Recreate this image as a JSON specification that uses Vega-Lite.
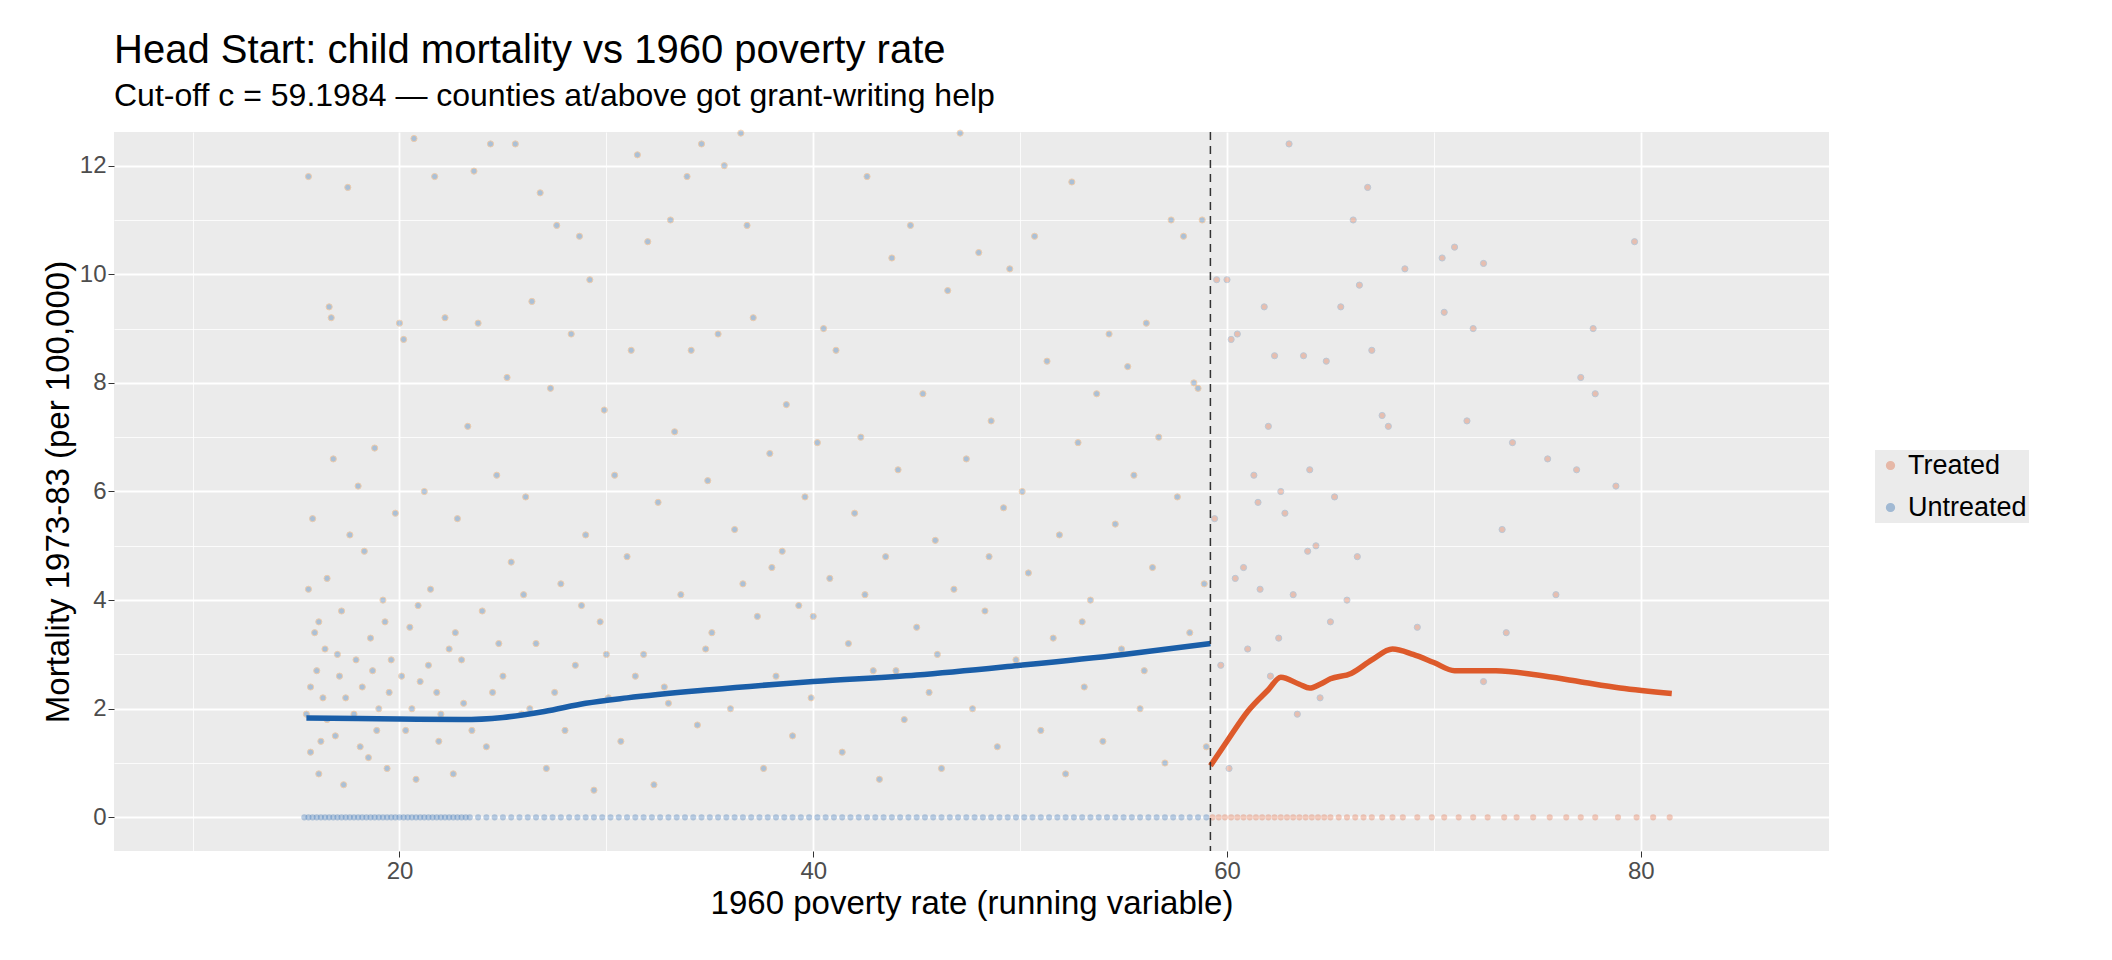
{
  "$schema": "https://vega.github.io/schema/vega-lite/v6.json",
  "autosize": {"type": "none"},
  "width": 1715,
  "height": 719,
  "padding": {"left": 114, "top": 132, "right": 283, "bottom": 109},
  "background": "white",
  "config": {
    "font": "Liberation Sans",
    "view": {"fill": "#ebebeb", "stroke": null},
    "axis": {
      "gridColor": "white", "domain": false, "tickColor": "#333333",
      "labelFontSize": 24, "labelColor": "#4d4d4d", "titleFontSize": 33, "titleFontWeight": "normal", "titleColor": "black"
    }
  },
  "title": {
    "text": "Head Start: child mortality vs 1960 poverty rate",
    "subtitle": "Cut-off c = 59.1984 — counties at/above got grant-writing help",
    "anchor": "start", "frame": "group", "fontSize": 40, "fontWeight": "normal",
    "subtitleFontSize": 32, "subtitleColor": "black", "offset": 16, "subtitlePadding": 10
  },
  "datasets": {
    "pts": [
      {"x":15.6,"y":11.8,"g":"Untreated"},{"x":15.8,"y":5.5,"g":"Untreated"},{"x":15.9,"y":3.4,"g":"Untreated"},{"x":16.0,"y":2.7,"g":"Untreated"},{"x":15.5,"y":1.9,"g":"Untreated"},{"x":15.7,"y":1.2,"g":"Untreated"},{"x":16.1,"y":0.8,"g":"Untreated"},{"x":15.6,"y":4.2,"g":"Untreated"},{"x":16.3,"y":2.2,"g":"Untreated"},{"x":16.4,"y":3.1,"g":"Untreated"},
      {"x":16.6,"y":9.4,"g":"Untreated"},{"x":16.7,"y":9.2,"g":"Untreated"},{"x":16.8,"y":6.6,"g":"Untreated"},{"x":16.5,"y":4.4,"g":"Untreated"},{"x":16.9,"y":1.5,"g":"Untreated"},{"x":17.1,"y":2.6,"g":"Untreated"},{"x":17.3,"y":0.6,"g":"Untreated"},{"x":17.2,"y":3.8,"g":"Untreated"},{"x":17.5,"y":11.6,"g":"Untreated"},{"x":17.6,"y":5.2,"g":"Untreated"},
      {"x":17.8,"y":1.9,"g":"Untreated"},{"x":18.0,"y":6.1,"g":"Untreated"},{"x":18.2,"y":2.4,"g":"Untreated"},{"x":18.3,"y":4.9,"g":"Untreated"},{"x":18.5,"y":1.1,"g":"Untreated"},{"x":18.6,"y":3.3,"g":"Untreated"},{"x":18.8,"y":6.8,"g":"Untreated"},{"x":19.0,"y":2.0,"g":"Untreated"},{"x":19.2,"y":4.0,"g":"Untreated"},{"x":19.4,"y":0.9,"g":"Untreated"},
      {"x":19.6,"y":2.9,"g":"Untreated"},{"x":19.8,"y":5.6,"g":"Untreated"},{"x":20.0,"y":9.1,"g":"Untreated"},{"x":20.2,"y":8.8,"g":"Untreated"},{"x":20.3,"y":1.6,"g":"Untreated"},{"x":20.5,"y":3.5,"g":"Untreated"},{"x":20.7,"y":12.5,"g":"Untreated"},{"x":20.8,"y":0.7,"g":"Untreated"},{"x":21.0,"y":2.5,"g":"Untreated"},{"x":21.2,"y":6.0,"g":"Untreated"},
      {"x":21.5,"y":4.2,"g":"Untreated"},{"x":21.7,"y":11.8,"g":"Untreated"},{"x":21.9,"y":1.4,"g":"Untreated"},{"x":22.2,"y":9.2,"g":"Untreated"},{"x":22.4,"y":3.1,"g":"Untreated"},{"x":22.6,"y":0.8,"g":"Untreated"},{"x":22.8,"y":5.5,"g":"Untreated"},{"x":23.1,"y":2.1,"g":"Untreated"},{"x":23.3,"y":7.2,"g":"Untreated"},{"x":23.6,"y":11.9,"g":"Untreated"},
      {"x":23.8,"y":9.1,"g":"Untreated"},{"x":24.0,"y":3.8,"g":"Untreated"},{"x":24.2,"y":1.3,"g":"Untreated"},{"x":24.4,"y":12.4,"g":"Untreated"},{"x":24.7,"y":6.3,"g":"Untreated"},{"x":25.0,"y":2.6,"g":"Untreated"},{"x":25.2,"y":8.1,"g":"Untreated"},{"x":25.4,"y":4.7,"g":"Untreated"},{"x":25.6,"y":12.4,"g":"Untreated"},{"x":25.9,"y":1.9,"g":"Untreated"},
      {"x":26.1,"y":5.9,"g":"Untreated"},{"x":26.4,"y":9.5,"g":"Untreated"},{"x":26.6,"y":3.2,"g":"Untreated"},{"x":26.8,"y":11.5,"g":"Untreated"},{"x":27.1,"y":0.9,"g":"Untreated"},{"x":27.3,"y":7.9,"g":"Untreated"},{"x":27.6,"y":10.9,"g":"Untreated"},{"x":27.8,"y":4.3,"g":"Untreated"},{"x":28.0,"y":1.6,"g":"Untreated"},{"x":28.3,"y":8.9,"g":"Untreated"},
      {"x":28.5,"y":2.8,"g":"Untreated"},{"x":28.7,"y":10.7,"g":"Untreated"},{"x":29.0,"y":5.2,"g":"Untreated"},{"x":29.2,"y":9.9,"g":"Untreated"},{"x":29.4,"y":0.5,"g":"Untreated"},{"x":29.7,"y":3.6,"g":"Untreated"},{"x":29.9,"y":7.5,"g":"Untreated"},{"x":30.1,"y":2.2,"g":"Untreated"},{"x":30.4,"y":6.3,"g":"Untreated"},{"x":30.7,"y":1.4,"g":"Untreated"},
      {"x":31.0,"y":4.8,"g":"Untreated"},{"x":31.2,"y":8.6,"g":"Untreated"},{"x":31.5,"y":12.2,"g":"Untreated"},{"x":31.8,"y":3.0,"g":"Untreated"},{"x":32.0,"y":10.6,"g":"Untreated"},{"x":32.3,"y":0.6,"g":"Untreated"},{"x":32.5,"y":5.8,"g":"Untreated"},{"x":32.8,"y":2.4,"g":"Untreated"},{"x":33.1,"y":11.0,"g":"Untreated"},{"x":33.3,"y":7.1,"g":"Untreated"},
      {"x":33.6,"y":4.1,"g":"Untreated"},{"x":33.9,"y":11.8,"g":"Untreated"},{"x":34.1,"y":8.6,"g":"Untreated"},{"x":34.4,"y":1.7,"g":"Untreated"},{"x":34.6,"y":12.4,"g":"Untreated"},{"x":34.9,"y":6.2,"g":"Untreated"},{"x":35.1,"y":3.4,"g":"Untreated"},{"x":35.4,"y":8.9,"g":"Untreated"},{"x":35.7,"y":12.0,"g":"Untreated"},{"x":36.0,"y":2.0,"g":"Untreated"},
      {"x":36.2,"y":5.3,"g":"Untreated"},{"x":36.5,"y":12.6,"g":"Untreated"},{"x":36.8,"y":10.9,"g":"Untreated"},{"x":37.1,"y":9.2,"g":"Untreated"},{"x":37.3,"y":3.7,"g":"Untreated"},{"x":37.6,"y":0.9,"g":"Untreated"},{"x":37.9,"y":6.7,"g":"Untreated"},{"x":38.2,"y":2.6,"g":"Untreated"},{"x":38.5,"y":4.9,"g":"Untreated"},{"x":38.7,"y":7.6,"g":"Untreated"},
      {"x":39.0,"y":1.5,"g":"Untreated"},{"x":39.3,"y":3.9,"g":"Untreated"},{"x":39.6,"y":5.9,"g":"Untreated"},{"x":39.9,"y":2.2,"g":"Untreated"},{"x":40.2,"y":6.9,"g":"Untreated"},{"x":40.5,"y":9.0,"g":"Untreated"},{"x":40.8,"y":4.4,"g":"Untreated"},{"x":41.1,"y":8.6,"g":"Untreated"},{"x":41.4,"y":1.2,"g":"Untreated"},{"x":41.7,"y":3.2,"g":"Untreated"},
      {"x":42.0,"y":5.6,"g":"Untreated"},{"x":42.3,"y":7.0,"g":"Untreated"},{"x":42.6,"y":11.8,"g":"Untreated"},{"x":42.9,"y":2.7,"g":"Untreated"},{"x":43.2,"y":0.7,"g":"Untreated"},{"x":43.5,"y":4.8,"g":"Untreated"},{"x":43.8,"y":10.3,"g":"Untreated"},{"x":44.1,"y":6.4,"g":"Untreated"},{"x":44.4,"y":1.8,"g":"Untreated"},{"x":44.7,"y":10.9,"g":"Untreated"},
      {"x":45.0,"y":3.5,"g":"Untreated"},{"x":45.3,"y":7.8,"g":"Untreated"},{"x":45.6,"y":2.3,"g":"Untreated"},{"x":45.9,"y":5.1,"g":"Untreated"},{"x":46.2,"y":0.9,"g":"Untreated"},{"x":46.5,"y":9.7,"g":"Untreated"},{"x":46.8,"y":4.2,"g":"Untreated"},{"x":47.1,"y":12.6,"g":"Untreated"},{"x":47.4,"y":6.6,"g":"Untreated"},{"x":47.7,"y":2.0,"g":"Untreated"},
      {"x":48.0,"y":10.4,"g":"Untreated"},{"x":48.3,"y":3.8,"g":"Untreated"},{"x":48.6,"y":7.3,"g":"Untreated"},{"x":48.9,"y":1.3,"g":"Untreated"},{"x":49.2,"y":5.7,"g":"Untreated"},{"x":49.5,"y":10.1,"g":"Untreated"},{"x":49.8,"y":2.9,"g":"Untreated"},{"x":50.1,"y":6.0,"g":"Untreated"},{"x":50.4,"y":4.5,"g":"Untreated"},{"x":50.7,"y":10.7,"g":"Untreated"},
      {"x":51.0,"y":1.6,"g":"Untreated"},{"x":51.3,"y":8.4,"g":"Untreated"},{"x":51.6,"y":3.3,"g":"Untreated"},{"x":51.9,"y":5.2,"g":"Untreated"},{"x":52.2,"y":0.8,"g":"Untreated"},{"x":52.5,"y":11.7,"g":"Untreated"},{"x":52.8,"y":6.9,"g":"Untreated"},{"x":53.1,"y":2.4,"g":"Untreated"},{"x":53.4,"y":4.0,"g":"Untreated"},{"x":53.7,"y":7.8,"g":"Untreated"},
      {"x":54.0,"y":1.4,"g":"Untreated"},{"x":54.3,"y":8.9,"g":"Untreated"},{"x":54.6,"y":5.4,"g":"Untreated"},{"x":54.9,"y":3.1,"g":"Untreated"},{"x":55.2,"y":8.3,"g":"Untreated"},{"x":55.5,"y":6.3,"g":"Untreated"},{"x":55.8,"y":2.0,"g":"Untreated"},{"x":56.1,"y":9.1,"g":"Untreated"},{"x":56.4,"y":4.6,"g":"Untreated"},{"x":56.7,"y":7.0,"g":"Untreated"},
      {"x":57.0,"y":1.0,"g":"Untreated"},{"x":57.3,"y":11.0,"g":"Untreated"},{"x":57.6,"y":5.9,"g":"Untreated"},{"x":57.9,"y":10.7,"g":"Untreated"},{"x":58.2,"y":3.4,"g":"Untreated"},{"x":58.4,"y":8.0,"g":"Untreated"},{"x":58.6,"y":7.9,"g":"Untreated"},{"x":58.8,"y":11.0,"g":"Untreated"},{"x":59.0,"y":1.3,"g":"Untreated"},{"x":58.9,"y":4.3,"g":"Untreated"},
      {"x":16.2,"y":1.4,"g":"Untreated"},{"x":17.0,"y":3.0,"g":"Untreated"},{"x":17.9,"y":2.9,"g":"Untreated"},{"x":18.9,"y":1.6,"g":"Untreated"},{"x":19.5,"y":2.3,"g":"Untreated"},{"x":20.6,"y":2.0,"g":"Untreated"},{"x":21.4,"y":2.8,"g":"Untreated"},{"x":22.0,"y":1.9,"g":"Untreated"},{"x":23.0,"y":2.9,"g":"Untreated"},{"x":24.5,"y":2.3,"g":"Untreated"},
      {"x":26.0,"y":4.1,"g":"Untreated"},{"x":27.5,"y":2.3,"g":"Untreated"},{"x":30.0,"y":3.0,"g":"Untreated"},{"x":33.0,"y":2.1,"g":"Untreated"},{"x":36.6,"y":4.3,"g":"Untreated"},{"x":40.0,"y":3.7,"g":"Untreated"},{"x":44.0,"y":2.7,"g":"Untreated"},{"x":48.5,"y":4.8,"g":"Untreated"},{"x":53.0,"y":3.6,"g":"Untreated"},{"x":56.0,"y":2.7,"g":"Untreated"},
      {"x":15.7,"y":2.4,"g":"Untreated"},{"x":16.1,"y":3.6,"g":"Untreated"},{"x":16.5,"y":1.8,"g":"Untreated"},{"x":17.4,"y":2.2,"g":"Untreated"},{"x":18.1,"y":1.3,"g":"Untreated"},{"x":18.7,"y":2.7,"g":"Untreated"},{"x":19.3,"y":3.6,"g":"Untreated"},{"x":20.1,"y":2.6,"g":"Untreated"},{"x":20.9,"y":3.9,"g":"Untreated"},{"x":21.8,"y":2.3,"g":"Untreated"},
      {"x":22.7,"y":3.4,"g":"Untreated"},{"x":23.5,"y":1.6,"g":"Untreated"},{"x":24.8,"y":3.2,"g":"Untreated"},{"x":26.3,"y":2.0,"g":"Untreated"},{"x":28.8,"y":3.9,"g":"Untreated"},{"x":31.4,"y":2.6,"g":"Untreated"},{"x":34.8,"y":3.1,"g":"Untreated"},{"x":38.0,"y":4.6,"g":"Untreated"},{"x":42.5,"y":4.1,"g":"Untreated"},{"x":46.0,"y":3.0,"g":"Untreated"},
      {"x":59.4,"y":5.5,"g":"Treated"},{"x":59.5,"y":9.9,"g":"Treated"},{"x":59.7,"y":2.8,"g":"Treated"},{"x":60.0,"y":9.9,"g":"Treated"},{"x":60.2,"y":8.8,"g":"Treated"},{"x":60.4,"y":4.4,"g":"Treated"},{"x":60.5,"y":8.9,"g":"Treated"},{"x":60.8,"y":4.6,"g":"Treated"},{"x":61.3,"y":6.3,"g":"Treated"},{"x":61.5,"y":5.8,"g":"Treated"},
      {"x":61.8,"y":9.4,"g":"Treated"},{"x":62.0,"y":7.2,"g":"Treated"},{"x":62.3,"y":8.5,"g":"Treated"},{"x":62.5,"y":3.3,"g":"Treated"},{"x":62.8,"y":5.6,"g":"Treated"},{"x":63.0,"y":12.4,"g":"Treated"},{"x":63.2,"y":4.1,"g":"Treated"},{"x":63.4,"y":1.9,"g":"Treated"},{"x":63.7,"y":8.5,"g":"Treated"},{"x":64.0,"y":6.4,"g":"Treated"},
      {"x":64.5,"y":2.2,"g":"Treated"},{"x":64.8,"y":8.4,"g":"Treated"},{"x":65.2,"y":5.9,"g":"Treated"},{"x":65.5,"y":9.4,"g":"Treated"},{"x":65.8,"y":4.0,"g":"Treated"},{"x":66.1,"y":11.0,"g":"Treated"},{"x":66.4,"y":9.8,"g":"Treated"},{"x":66.8,"y":11.6,"g":"Treated"},{"x":67.0,"y":8.6,"g":"Treated"},{"x":67.5,"y":7.4,"g":"Treated"},
      {"x":68.6,"y":10.1,"g":"Treated"},{"x":69.2,"y":3.5,"g":"Treated"},{"x":70.4,"y":10.3,"g":"Treated"},{"x":70.5,"y":9.3,"g":"Treated"},{"x":71.0,"y":10.5,"g":"Treated"},{"x":71.6,"y":7.3,"g":"Treated"},{"x":71.9,"y":9.0,"g":"Treated"},{"x":72.4,"y":2.5,"g":"Treated"},{"x":72.4,"y":10.2,"g":"Treated"},{"x":73.3,"y":5.3,"g":"Treated"},
      {"x":73.5,"y":3.4,"g":"Treated"},{"x":73.8,"y":6.9,"g":"Treated"},{"x":75.5,"y":6.6,"g":"Treated"},{"x":75.9,"y":4.1,"g":"Treated"},{"x":76.9,"y":6.4,"g":"Treated"},{"x":77.1,"y":8.1,"g":"Treated"},{"x":77.7,"y":9.0,"g":"Treated"},{"x":77.8,"y":7.8,"g":"Treated"},{"x":78.8,"y":6.1,"g":"Treated"},{"x":79.7,"y":10.6,"g":"Treated"},
      {"x":60.1,"y":0.9,"g":"Treated"},{"x":61.0,"y":3.1,"g":"Treated"},{"x":62.1,"y":2.6,"g":"Treated"},{"x":63.9,"y":4.9,"g":"Treated"},{"x":65.0,"y":3.6,"g":"Treated"},{"x":66.3,"y":4.8,"g":"Treated"},{"x":67.8,"y":7.2,"g":"Treated"},{"x":62.6,"y":6.0,"g":"Treated"},{"x":64.3,"y":5.0,"g":"Treated"},{"x":61.6,"y":4.2,"g":"Treated"}
    ],
    "zeros": [
      {"x":15.4,"g":"Untreated"},{"x":15.8,"g":"Untreated"},{"x":16.2,"g":"Untreated"},{"x":16.6,"g":"Untreated"},{"x":17.0,"g":"Untreated"},{"x":17.4,"g":"Untreated"},{"x":17.8,"g":"Untreated"},{"x":18.2,"g":"Untreated"},{"x":18.6,"g":"Untreated"},{"x":19.0,"g":"Untreated"},
      {"x":19.4,"g":"Untreated"},{"x":19.8,"g":"Untreated"},{"x":20.2,"g":"Untreated"},{"x":20.6,"g":"Untreated"},{"x":21.0,"g":"Untreated"},{"x":21.4,"g":"Untreated"},{"x":21.8,"g":"Untreated"},{"x":22.2,"g":"Untreated"},{"x":22.6,"g":"Untreated"},{"x":23.0,"g":"Untreated"},
      {"x":23.4,"g":"Untreated"},{"x":23.8,"g":"Untreated"},{"x":24.2,"g":"Untreated"},{"x":24.6,"g":"Untreated"},{"x":25.0,"g":"Untreated"},{"x":25.4,"g":"Untreated"},{"x":25.8,"g":"Untreated"},{"x":26.2,"g":"Untreated"},{"x":26.6,"g":"Untreated"},{"x":27.0,"g":"Untreated"},
      {"x":27.4,"g":"Untreated"},{"x":27.8,"g":"Untreated"},{"x":28.2,"g":"Untreated"},{"x":28.6,"g":"Untreated"},{"x":29.0,"g":"Untreated"},{"x":29.4,"g":"Untreated"},{"x":29.8,"g":"Untreated"},{"x":30.2,"g":"Untreated"},{"x":30.6,"g":"Untreated"},{"x":31.0,"g":"Untreated"},
      {"x":31.4,"g":"Untreated"},{"x":31.8,"g":"Untreated"},{"x":32.2,"g":"Untreated"},{"x":32.6,"g":"Untreated"},{"x":33.0,"g":"Untreated"},{"x":33.4,"g":"Untreated"},{"x":33.8,"g":"Untreated"},{"x":34.2,"g":"Untreated"},{"x":34.6,"g":"Untreated"},{"x":35.0,"g":"Untreated"},
      {"x":35.4,"g":"Untreated"},{"x":35.8,"g":"Untreated"},{"x":36.2,"g":"Untreated"},{"x":36.6,"g":"Untreated"},{"x":37.0,"g":"Untreated"},{"x":37.4,"g":"Untreated"},{"x":37.8,"g":"Untreated"},{"x":38.2,"g":"Untreated"},{"x":38.6,"g":"Untreated"},{"x":39.0,"g":"Untreated"},
      {"x":39.4,"g":"Untreated"},{"x":39.8,"g":"Untreated"},{"x":40.2,"g":"Untreated"},{"x":40.6,"g":"Untreated"},{"x":41.0,"g":"Untreated"},{"x":41.4,"g":"Untreated"},{"x":41.8,"g":"Untreated"},{"x":42.2,"g":"Untreated"},{"x":42.6,"g":"Untreated"},{"x":43.0,"g":"Untreated"},
      {"x":43.4,"g":"Untreated"},{"x":43.8,"g":"Untreated"},{"x":44.2,"g":"Untreated"},{"x":44.6,"g":"Untreated"},{"x":45.0,"g":"Untreated"},{"x":45.4,"g":"Untreated"},{"x":45.8,"g":"Untreated"},{"x":46.2,"g":"Untreated"},{"x":46.6,"g":"Untreated"},{"x":47.0,"g":"Untreated"},
      {"x":47.4,"g":"Untreated"},{"x":47.8,"g":"Untreated"},{"x":48.2,"g":"Untreated"},{"x":48.6,"g":"Untreated"},{"x":49.0,"g":"Untreated"},{"x":49.4,"g":"Untreated"},{"x":49.8,"g":"Untreated"},{"x":50.2,"g":"Untreated"},{"x":50.6,"g":"Untreated"},{"x":51.0,"g":"Untreated"},
      {"x":51.4,"g":"Untreated"},{"x":51.8,"g":"Untreated"},{"x":52.2,"g":"Untreated"},{"x":52.6,"g":"Untreated"},{"x":53.0,"g":"Untreated"},{"x":53.4,"g":"Untreated"},{"x":53.8,"g":"Untreated"},{"x":54.2,"g":"Untreated"},{"x":54.6,"g":"Untreated"},{"x":55.0,"g":"Untreated"},
      {"x":55.4,"g":"Untreated"},{"x":55.8,"g":"Untreated"},{"x":56.2,"g":"Untreated"},{"x":56.6,"g":"Untreated"},{"x":57.0,"g":"Untreated"},{"x":57.4,"g":"Untreated"},{"x":57.8,"g":"Untreated"},{"x":58.2,"g":"Untreated"},{"x":58.6,"g":"Untreated"},{"x":59.0,"g":"Untreated"},
      {"x":15.6,"g":"Untreated"},{"x":16.0,"g":"Untreated"},{"x":16.4,"g":"Untreated"},{"x":16.8,"g":"Untreated"},{"x":17.2,"g":"Untreated"},{"x":17.6,"g":"Untreated"},{"x":18.0,"g":"Untreated"},{"x":18.4,"g":"Untreated"},{"x":18.8,"g":"Untreated"},{"x":19.2,"g":"Untreated"},
      {"x":19.6,"g":"Untreated"},{"x":20.0,"g":"Untreated"},{"x":20.4,"g":"Untreated"},{"x":20.8,"g":"Untreated"},{"x":21.2,"g":"Untreated"},{"x":21.6,"g":"Untreated"},{"x":22.0,"g":"Untreated"},{"x":22.4,"g":"Untreated"},{"x":22.8,"g":"Untreated"},{"x":23.2,"g":"Untreated"},
      {"x":59.3,"g":"Treated"},{"x":59.6,"g":"Treated"},{"x":59.9,"g":"Treated"},{"x":60.2,"g":"Treated"},{"x":60.5,"g":"Treated"},{"x":60.8,"g":"Treated"},{"x":61.1,"g":"Treated"},{"x":61.4,"g":"Treated"},{"x":61.7,"g":"Treated"},{"x":62.0,"g":"Treated"},
      {"x":62.3,"g":"Treated"},{"x":62.6,"g":"Treated"},{"x":62.9,"g":"Treated"},{"x":63.2,"g":"Treated"},{"x":63.5,"g":"Treated"},{"x":63.8,"g":"Treated"},{"x":64.1,"g":"Treated"},{"x":64.4,"g":"Treated"},{"x":64.7,"g":"Treated"},{"x":65.0,"g":"Treated"},
      {"x":65.4,"g":"Treated"},{"x":65.8,"g":"Treated"},{"x":66.2,"g":"Treated"},{"x":66.6,"g":"Treated"},{"x":67.0,"g":"Treated"},{"x":67.5,"g":"Treated"},{"x":68.0,"g":"Treated"},{"x":68.5,"g":"Treated"},{"x":69.2,"g":"Treated"},{"x":69.9,"g":"Treated"},
      {"x":70.5,"g":"Treated"},{"x":71.2,"g":"Treated"},{"x":71.9,"g":"Treated"},{"x":72.6,"g":"Treated"},{"x":73.4,"g":"Treated"},{"x":74.0,"g":"Treated"},{"x":74.8,"g":"Treated"},{"x":75.6,"g":"Treated"},{"x":76.4,"g":"Treated"},{"x":77.1,"g":"Treated"},
      {"x":77.8,"g":"Treated"},{"x":78.9,"g":"Treated"},{"x":79.8,"g":"Treated"},{"x":80.6,"g":"Treated"},{"x":81.4,"g":"Treated"}
    ],
    "smooth": [
      {"x":15.5,"y":1.83,"g":"Untreated"},{"x":18,"y":1.82,"g":"Untreated"},{"x":20,"y":1.81,"g":"Untreated"},{"x":23,"y":1.8,"g":"Untreated"},{"x":25,"y":1.84,"g":"Untreated"},{"x":27,"y":1.95,"g":"Untreated"},{"x":29,"y":2.1,"g":"Untreated"},{"x":31,"y":2.2,"g":"Untreated"},{"x":35,"y":2.35,"g":"Untreated"},{"x":40,"y":2.5,"g":"Untreated"},{"x":45,"y":2.62,"g":"Untreated"},{"x":50,"y":2.8,"g":"Untreated"},{"x":55,"y":3.0,"g":"Untreated"},{"x":59.2,"y":3.2,"g":"Untreated"},
      {"x":59.2,"y":0.95,"g":"Treated"},{"x":60,"y":1.4,"g":"Treated"},{"x":61,"y":1.95,"g":"Treated"},{"x":62,"y":2.35,"g":"Treated"},{"x":62.6,"y":2.58,"g":"Treated"},{"x":63.5,"y":2.45,"g":"Treated"},{"x":64,"y":2.38,"g":"Treated"},{"x":64.5,"y":2.45,"g":"Treated"},{"x":65,"y":2.55,"g":"Treated"},{"x":66,"y":2.65,"g":"Treated"},{"x":67,"y":2.9,"g":"Treated"},{"x":68,"y":3.1,"g":"Treated"},{"x":69,"y":3.0,"g":"Treated"},{"x":70,"y":2.85,"g":"Treated"},{"x":71,"y":2.7,"g":"Treated"},{"x":73,"y":2.7,"g":"Treated"},{"x":75,"y":2.62,"g":"Treated"},{"x":77,"y":2.5,"g":"Treated"},{"x":79,"y":2.38,"g":"Treated"},{"x":81.5,"y":2.28,"g":"Treated"}
    ]
  },
  "encoding": {
    "x": {"field": "x", "type": "quantitative", "scale": {"domain": [6.2, 89.1], "nice": false, "zero": false},
      "axis": {"values": [10,20,30,40,50,60,70,80], "labelExpr": "datum.value % 20 == 0 ? datum.label : ''",
        "gridWidth": {"condition": {"test": "datum.value % 20 == 0", "value": 1.8}, "value": 0.8},
        "tickSize": {"condition": {"test": "datum.value % 20 == 0", "value": 6}, "value": 0},
        "title": "1960 poverty rate (running variable)"}},
    "color": {"field": "g", "type": "nominal", "scale": {"domain": ["Treated", "Untreated"], "range": ["#dd5a2b", "#1a5ea8"]},
      "legend": {"title": null, "orient": "none", "legendX": 1761, "legendY": 318, "labelFontSize": 27, "symbolSize": 60, "symbolOpacity": 0.35, "fillColor": "#ebebeb", "padding": 2, "rowPadding": 14}}
  },
  "layer": [
    {
      "data": {"name": "pts"},
      "mark": {"type": "circle", "size": 38, "opacity": 0.3, "strokeWidth": 1},
      "encoding": {
        "stroke": {"field": "g", "type": "nominal", "legend": null},
        "y": {"field": "y", "type": "quantitative", "scale": {"domain": [-0.62, 12.62], "nice": false, "zero": false},
          "axis": {"values": [0,1,2,3,4,5,6,7,8,9,10,11,12], "labelExpr": "datum.value % 2 == 0 ? datum.label : ''",
            "gridWidth": {"condition": {"test": "datum.value % 2 == 0", "value": 1.8}, "value": 0.8},
            "tickSize": {"condition": {"test": "datum.value % 2 == 0", "value": 6}, "value": 0},
            "title": "Mortality 1973-83 (per 100,000)"}}
      }
    },
    {
      "data": {"name": "zeros"},
      "mark": {"type": "circle", "size": 38, "opacity": 0.3},
      "encoding": {"y": {"datum": 0, "type": "quantitative"}}
    },
    {
      "data": {"name": "smooth"},
      "mark": {"type": "line", "strokeWidth": 5.5, "interpolate": "monotone"},
      "encoding": {"y": {"field": "y", "type": "quantitative"}, "detail": {"field": "g"}}
    },
    {
      "data": {"values": [{"c": 59.1984}]},
      "mark": {"type": "rule", "strokeDash": [8, 6], "color": "#333333", "strokeWidth": 1.5},
      "encoding": {"x": {"field": "c", "type": "quantitative"}, "color": {"value": "#333333"}}
    }
  ]
}
